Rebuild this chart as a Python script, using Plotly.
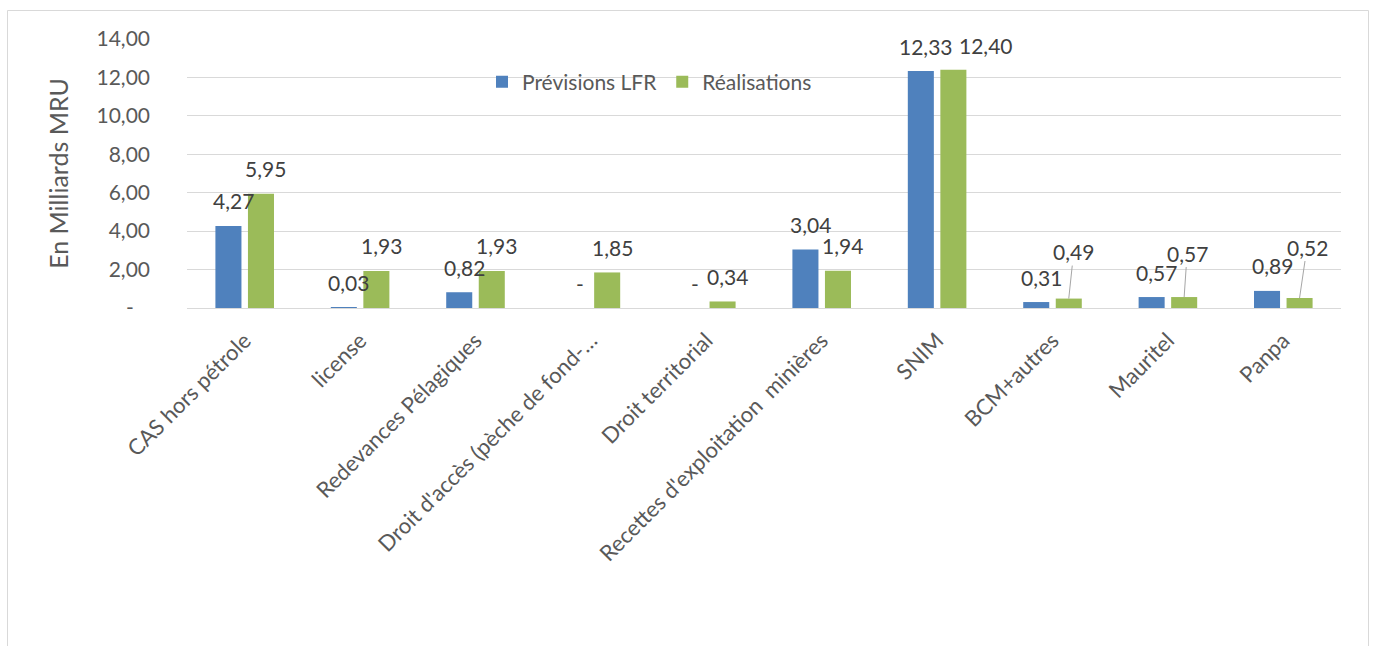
import plotly.graph_objects as go

categories = ["CAS hors pétrole", "license", "Redevances Pélagiques",
              "Droit d'accès (pèche de fond-…", "Droit territorial",
              "Recettes d'exploitation\u00a0 minières", "SNIM", "BCM+autres",
              "Mauritel", "Panpa"]
previsions = [4.27, 0.03, 0.82, 0, 0, 3.04, 12.33, 0.31, 0.57, 0.89]
realisations = [5.95, 1.93, 1.93, 1.85, 0.34, 1.94, 12.40, 0.49, 0.57, 0.52]
y_tick_vals = [0, 2, 4, 6, 8, 10, 12, 14]
series_names = ["Prévisions LFR", "Réalisations"]

BLUE = "#4F81BD"
GREEN = "#9BBB59"
FONT = "Lato"
W, H = 1373, 646
ML, MR, MT, MB = 187, 32, 39, 338
PW = W - ML - MR
PH = H - MT - MB


def fmt(v):
    if v == 0:
        return "-"
    return f"{v:.2f}".replace(".", ",")


def tick_fmt(v):
    if v == 0:
        return "-\u00a0\u00a0\u00a0"
    return f"{v:.2f}".replace(".", ",")


fig = go.Figure()
fig.add_trace(go.Bar(x=categories, y=previsions, name=series_names[0],
                     marker=dict(color=BLUE, line=dict(width=0))))
fig.add_trace(go.Bar(x=categories, y=realisations, name=series_names[1],
                     marker=dict(color=GREEN, line=dict(width=0))))

# label placement styles (pixel offsets relative to bar top)
bar_off = 16.25
label_style = {
    (1, 6): dict(dx=33, dy=24, leader=False),
    (1, 7): dict(dx=5, dy=47, leader=True),
    (1, 8): dict(dx=3, dy=44, leader=True),
    (1, 9): dict(dx=7.5, dy=51, leader=True),
}
annotations = []
for s, vals in enumerate([previsions, realisations]):
    off = -bar_off if s == 0 else bar_off
    for i, v in enumerate(vals):
        st = label_style.get((s, i), dict(dx=5, dy=25, leader=False))
        base = dict(x=categories[i], y=v, xref="x", yref="y", text=fmt(v),
                    font=dict(family=FONT, size=21, color="#404040"))
        if st["leader"]:
            annotations.append(dict(base, showarrow=True, arrowhead=0,
                                    arrowwidth=1, arrowcolor="#a6a6a6",
                                    xshift=off, ax=st["dx"], ay=-st["dy"],
                                    standoff=0))
        else:
            annotations.append(dict(base, showarrow=False,
                                    xshift=off + st["dx"], yshift=st["dy"],
                                    xanchor="center", yanchor="middle"))

fig.update_layout(
    width=W, height=H,
    margin=dict(l=ML, r=MR, t=MT, b=MB, autoexpand=False),
    paper_bgcolor="white", plot_bgcolor="white",
    barmode="group", bargap=0.436, bargroupgap=0.2,
    font=dict(family=FONT, color="#595959"),
    showlegend=True,
    legend=dict(orientation="h", x=(482 - ML) / PW, xanchor="left",
                y=(MT + PH - 82) / PH, yanchor="middle",
                bgcolor="rgba(0,0,0,0)",
                font=dict(family=FONT, size=21, color="#595959")),
    annotations=annotations,
    xaxis=dict(tickangle=-45, showgrid=False, showline=True,
               linecolor="#d9d9d9", linewidth=1, ticks="",
               tickfont=dict(family=FONT, size=22, color="#595959"),
               ticklabelstandoff=10),
    yaxis=dict(range=[0, 14], tickvals=y_tick_vals,
               ticktext=[tick_fmt(v) for v in y_tick_vals],
               showgrid=True, gridcolor="#d9d9d9", gridwidth=1,
               zeroline=False, showline=False, ticks="",
               tickfont=dict(family=FONT, size=21, color="#595959"),
               ticklabelstandoff=36,
               title=dict(text="En Milliards MRU", standoff=20,
                          font=dict(family=FONT, size=25, color="#595959"))),
    shapes=[dict(type="rect", xref="paper", yref="paper",
                 x0=(7.5 - ML) / PW, x1=(1368.5 - ML) / PW,
                 y0=(MT + PH - 700) / PH, y1=(MT + PH - 10.5) / PH,
                 line=dict(color="#d9d9d9", width=1), layer="below")],
)

fig.write_html("out.html")
